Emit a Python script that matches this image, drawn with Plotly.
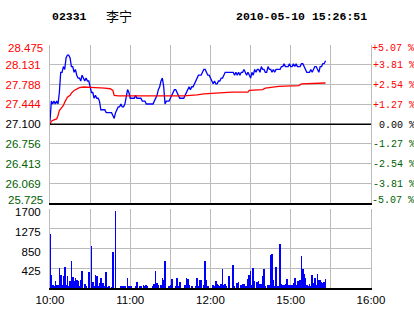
import plotly.graph_objects as go

PREV_CLOSE = 27.100
STOCK_CODE = "02331"
STOCK_NAME = "李宁"
TIMESTAMP = "2010-05-10 15:26:51"

# last price, one value per trading minute starting 10:00 (lunch break removed)
price = [
    27.15, 27.50, 27.45, 27.50, 27.45, 27.50, 27.45, 27.65, 28.00, 28.00,
    28.10, 28.05, 28.25, 28.30, 28.30, 28.25, 28.10, 28.10, 28.00, 28.05,
    27.95, 27.90, 27.90, 27.85, 27.95, 27.90, 27.85, 27.90, 27.85, 27.85,
    27.75, 27.65, 27.65, 27.55, 27.60, 27.55, 27.55, 27.50, 27.35, 27.35,
    27.35, 27.35, 27.30, 27.30, 27.30, 27.30, 27.30, 27.25, 27.20, 27.30,
    27.35, 27.40, 27.40, 27.45, 27.40, 27.40, 27.45, 27.60, 27.70, 27.65,
    27.55, 27.55, 27.55, 27.55, 27.60, 27.55, 27.55, 27.55, 27.55, 27.50,
    27.50, 27.50, 27.45, 27.45, 27.45, 27.45, 27.45, 27.45, 27.50, 27.55,
    27.60, 27.70, 27.75, 27.85, 27.90, 27.75, 27.45, 27.50, 27.50, 27.50,
    27.55, 27.60, 27.65, 27.70, 27.70, 27.65, 27.60, 27.55, 27.55, 27.55,
    27.55, 27.60, 27.65, 27.70, 27.75, 27.70, 27.75, 27.75, 27.80, 27.85,
    27.90, 27.95, 27.95, 27.95, 28.00, 28.05, 28.05, 28.00, 27.95, 27.95,
    27.90, 27.85, 27.80, 27.85, 27.80, 27.80, 27.85, 27.85, 27.90, 27.90,
    27.95, 28.00, 28.00, 28.00, 28.00, 28.00, 28.00, 28.00, 27.95, 28.00,
    27.95, 28.00, 27.95, 28.00, 28.00, 28.05, 28.00, 27.95, 28.00, 27.95,
    27.90, 28.00, 27.95, 28.05, 28.00, 28.05, 28.05, 28.00, 28.10, 28.05,
    28.05, 28.00, 28.00, 28.10, 28.05, 28.05, 28.00, 28.05, 28.00, 28.05,
    28.05, 28.05, 28.05, 28.10, 28.10, 28.15, 28.10, 28.10, 28.10, 28.15,
    28.10, 28.10, 28.15, 28.10, 28.15, 28.10, 28.10, 28.10, 28.15, 28.15,
    28.10, 28.05, 28.00, 28.00, 28.00, 28.05, 28.00, 28.05, 28.10, 28.10,
    28.05, 28.00, 28.10, 28.10, 28.15, 28.15, 28.20,
]

# volume per trading minute
volume = [
    1170, 286, 70, 50, 157, 70, 70, 429, 286, 70,
    264, 457, 70, 264, 50, 157, 586, 229, 157, 214,
    179, 157, 50, 179, 371, 0, 93, 50, 0, 350,
    0, 907, 136, 50, 286, 264, 50, 107, 221, 107,
    107, 50, 350, 14, 50, 0, 14, 779, 0, 1657,
    0, 0, 0, 50, 50, 50, 50, 0, 221, 50,
    50, 50, 0, 0, 50, 136, 0, 50, 50, 0,
    70, 50, 70, 50, 0, 0, 0, 50, 93, 371,
    114, 70, 0, 70, 221, 179, 586, 0, 0, 50,
    70, 200, 0, 0, 50, 221, 50, 136, 0, 0,
    0, 70, 221, 200, 70, 0, 50, 0, 0, 50,
    221, 50, 179, 179, 0, 70, 586, 179, 50, 0,
    0, 0, 70, 50, 157, 93, 70, 50, 93, 414,
    70, 93, 50, 0, 264, 0, 0, 500, 50, 0,
    114, 136, 0, 70, 93, 93, 50, 50, 200, 286,
    371, 70, 436, 157, 0, 136, 157, 93, 93, 264,
    414, 50, 0, 70, 70, 714, 736, 179, 50, 457,
    50, 50, 950, 93, 70, 70, 93, 200, 70, 70,
    70, 70, 114, 221, 70, 157, 157, 179, 693, 414,
    307, 221, 70, 50, 93, 50, 286, 114, 221, 70,
    307, 179, 179, 136, 114, 136, 200,
]

# average price line (minute index, value)
avg_minute = [0, 1, 3, 5, 6, 7, 8, 10, 11, 12, 13, 15, 16, 18, 20, 22, 25, 30, 34, 41,
              45, 47, 48, 51, 100, 110, 115, 136, 148, 149, 159, 161, 171, 186, 188, 206]
avg_price = [27.100, 27.150, 27.175, 27.190, 27.250, 27.335, 27.365, 27.425, 27.480, 27.520,
             27.570, 27.600, 27.640, 27.685, 27.715, 27.735, 27.745, 27.745, 27.735, 27.725,
             27.715, 27.685, 27.600, 27.590, 27.590, 27.610, 27.625, 27.655, 27.655, 27.685,
             27.700, 27.725, 27.755, 27.770, 27.800, 27.815]

price_ticks = [28.475, 28.131, 27.788, 27.444, 27.100, 26.756, 26.413, 26.069, 25.725]
pct_labels = [5.07, 3.81, 2.54, 1.27, 0.00, -1.27, -2.54, -3.81, -5.07]
vol_ticks = [425, 850, 1275, 1700]
time_ticks = [0, 30, 60, 90, 120, 150, 180, 210, 240]
time_labels = ["10:00", "", "11:00", "", "12:00", "", "15:00", "", "16:00"]

RED = "#FF0000"
GREEN = "#005F00"
GRID = "#BCBCBC"
SANS = "Liberation Sans, Arial, sans-serif"
MONO = "Liberation Mono, Courier New, monospace"


def col(v):
    if v > 1e-9:
        return RED
    if v < -1e-9:
        return GREEN
    return "#000000"


def price_label(p):
    return f"<span style='color:{col(p - PREV_CLOSE)}'>{p:.3f}</span>"


def pct_label(v):
    sign = "+" if v > 1e-9 else ("-" if v < -1e-9 else "\u00a0")
    return f"<span style='color:{col(v)}'>{sign}{abs(v):.2f}\u00a0%</span>"


# percentage axis shares the price scale
pct_pos = [(p - PREV_CLOSE) / PREV_CLOSE * 100 for p in price_ticks]
pct_range = [pct_pos[-1], pct_pos[0]]

inner_price = price_ticks[1:-1]
inner_pct_pos = pct_pos[1:-1]
inner_pct_lab = [pct_label(v) for v in pct_labels[1:-1]]

minutes = list(range(len(price)))

fig = go.Figure()
fig.add_trace(go.Scatter(x=minutes, y=price, xaxis="x2", yaxis="y2", mode="lines",
                         line=dict(color="#0000FF", width=1.3), hoverinfo="skip"))
fig.add_trace(go.Scatter(x=avg_minute, y=avg_price, xaxis="x2", yaxis="y2", mode="lines",
                         line=dict(color=RED, width=1.3), hoverinfo="skip"))
fig.add_trace(go.Scatter(x=[0], y=[0], xaxis="x2", yaxis="y3", mode="markers",
                         marker=dict(opacity=0), hoverinfo="skip"))
fig.add_trace(go.Bar(x=list(range(len(volume))), y=volume, xaxis="x", yaxis="y",
                     width=0.5, marker=dict(color="#0000FF", line=dict(width=0)),
                     hoverinfo="skip"))

axis_common = dict(showgrid=True, gridcolor=GRID, gridwidth=1, zeroline=False,
                   ticks="", automargin=False)

fig.update_layout(
    template="none",
    width=414, height=314,
    margin=dict(l=50, r=43, t=45, b=26),
    paper_bgcolor="white", plot_bgcolor="white",
    showlegend=False, bargap=0,
    xaxis=dict(domain=[0, 1], range=[0, 240], anchor="y",
               tickmode="array", tickvals=time_ticks, ticktext=time_labels,
               showline=True, linecolor="black", linewidth=1.5,
               tickfont=dict(family=SANS, size=11.5, color="black"), **axis_common),
    yaxis=dict(domain=[0, 0.3251], range=[0, 1700], anchor="x",
               tickmode="array", tickvals=vol_ticks,
               showline=True, linecolor=GRID, mirror=True,
               ticklabelstandoff=6, ticklabelshift=3,
               tickfont=dict(family=SANS, size=11.5, color="black"), **axis_common),
    xaxis2=dict(domain=[0, 1], range=[0, 240], anchor="y2",
                tickmode="array", tickvals=time_ticks, showticklabels=False,
                showline=True, linecolor="black", linewidth=1.5, **axis_common),
    yaxis2=dict(domain=[0.3486, 1], range=[price_ticks[-1], price_ticks[0]], anchor="x2",
                tickmode="array", tickvals=price_ticks,
                ticktext=[price_label(p) if p in inner_price else "" for p in price_ticks],
                showline=True, linecolor=GRID, mirror=True,
                ticklabelstandoff=6,
                tickfont=dict(family=SANS, size=11.5, color="black"), **axis_common),
    yaxis3=dict(overlaying="y2", side="right", anchor="x2", range=pct_range,
                tickmode="array", tickvals=inner_pct_pos, ticktext=inner_pct_lab,
                showgrid=False, zeroline=False, showline=False, ticks="",
                automargin=False, ticklabelstandoff=1,
                tickfont=dict(family=MONO, size=10, color="black")),
    shapes=[dict(type="line", xref="x2 domain", yref="y2", x0=0, x1=1,
                 y0=PREV_CLOSE, y1=PREV_CLOSE, line=dict(color="black", width=1.5))],
)

# end-of-scale labels sit just inside the frame, as in the original chart
for p, v, shift in [(price_ticks[0], pct_labels[0], -3), (price_ticks[-1], pct_labels[-1], 3)]:
    fig.add_annotation(text=price_label(p), xref="paper", yref="y2", x=0, y=p,
                       xanchor="right", yanchor="middle", xshift=-6, yshift=shift,
                       borderpad=0, showarrow=False,
                       font=dict(family=SANS, size=11.5, color="black"))
    fig.add_annotation(text=pct_label(v), xref="paper", yref="y2", x=1, y=p,
                       xanchor="left", yanchor="middle", xshift=0, yshift=shift,
                       borderpad=0, showarrow=False,
                       font=dict(family=MONO, size=10, color="black"))

fig.add_annotation(text=f"<b>{STOCK_CODE}</b>", xref="paper", yref="paper", x=0, y=1.119,
                   xanchor="left", yanchor="middle", showarrow=False,
                   font=dict(family=MONO, size=11.5, color="black"))
fig.add_annotation(text=STOCK_NAME, xref="paper", yref="paper", x=0.168, y=1.122,
                   xanchor="left", yanchor="middle", showarrow=False,
                   font=dict(family="Noto Sans CJK SC", size=13, color="black"))
fig.add_annotation(text=f"<b>{TIMESTAMP}</b>", xref="paper", yref="paper", x=0.994, y=1.119,
                   xanchor="right", yanchor="middle", showarrow=False,
                   font=dict(family=MONO, size=11.5, color="black"))

fig.write_html("out.html")
